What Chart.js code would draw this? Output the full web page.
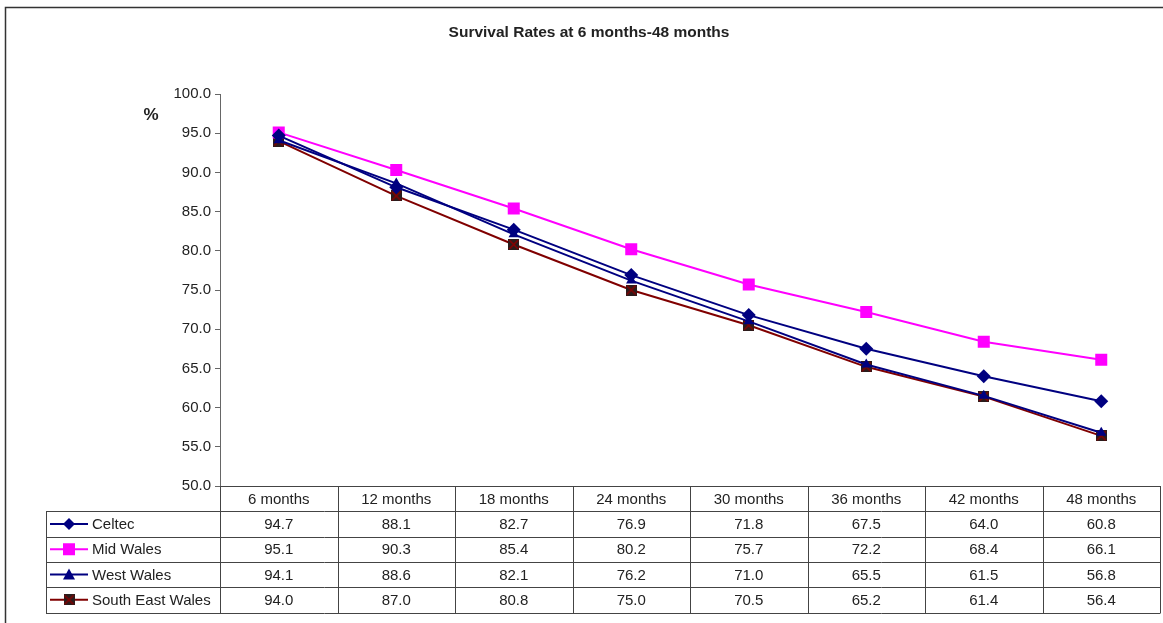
<!DOCTYPE html>
<html>
<head>
<meta charset="utf-8">
<title>Survival Rates at 6 months-48 months</title>
<script src="https://cdn.jsdelivr.net/npm/chart.js@4.4.1/dist/chart.umd.min.js"></script>
<style>
  html, body { margin: 0; padding: 0; background: #fff; }
  #wrap { position: relative; width: 1163px; height: 623px; }
</style>
</head>
<body>
<div id="wrap"><canvas id="chart" width="1163" height="623"></canvas></div>
<script>
const categories = ['6 months', '12 months', '18 months', '24 months', '30 months', '36 months', '42 months', '48 months'];
const celtec = [94.7, 88.1, 82.7, 76.9, 71.8, 67.5, 64.0, 60.8];
const midWales = [95.1, 90.3, 85.4, 80.2, 75.7, 72.2, 68.4, 66.1];
const westWales = [94.1, 88.6, 82.1, 76.2, 71.0, 65.5, 61.5, 56.8];
const southEastWales = [94.0, 87.0, 80.8, 75.0, 70.5, 65.2, 61.4, 56.4];
const seriesNames = ['Celtec', 'Mid Wales', 'West Wales', 'South East Wales'];
const chartTitle = 'Survival Rates at 6 months-48 months';

const FONT = '"Liberation Sans", Arial, sans-serif';

// dark square with a red cross, used for South East Wales
function crossBox(size) {
    const c = document.createElement('canvas');
    c.width = size; c.height = size;
    const g = c.getContext('2d');
    g.fillStyle = '#2a1c1c';
    g.fillRect(0, 0, size, size);
    g.strokeStyle = '#8b0000';
    g.lineWidth = 1.5;
    g.beginPath();
    g.moveTo(1, 1); g.lineTo(size - 1, size - 1);
    g.moveTo(size - 1, 1); g.lineTo(1, size - 1);
    g.stroke();
    return c;
}
const seMarker = crossBox(11);

const ctx = document.getElementById('chart').getContext('2d');

// legend marker drawing for the table
function drawKey(g, ds, i, x, y) {
    g.save();
    g.strokeStyle = ds.borderColor;
    g.lineWidth = 2;
    g.beginPath();
    g.moveTo(x - 19, y); g.lineTo(x + 19, y);
    g.stroke();
    g.fillStyle = ds.pointBackgroundColor;
    g.beginPath();
    if (i === 0) {
        g.moveTo(x, y - 6); g.lineTo(x + 6, y); g.lineTo(x, y + 6); g.lineTo(x - 6, y);
        g.closePath(); g.fill();
    } else if (i === 1) {
        g.fillRect(x - 6, y - 6, 12, 12);
    } else if (i === 2) {
        g.moveTo(x, y - 6); g.lineTo(x + 6, y + 5); g.lineTo(x - 6, y + 5);
        g.closePath(); g.fill();
    } else {
        g.drawImage(seMarker, x - 5.5, y - 5.5);
    }
    g.restore();
}

const extras = {
    id: 'extras',
    afterDraw(chart) {
        const g = chart.ctx;
        const xs = chart.scales.x;
        const area = chart.chartArea;
        const colW = xs.getPixelForValue(1) - xs.getPixelForValue(0);
        const rowH = 25.3;
        const top = area.bottom;
        const keyLeft = 46;
        const values = [celtec, midWales, westWales, southEastWales];

        g.save();
        // outer frame
        g.strokeStyle = '#333';
        g.lineWidth = 1.5;
        g.beginPath();
        g.moveTo(5.5, 623); g.lineTo(5.5, 7.5); g.lineTo(1163, 7.5);
        g.stroke();

        // title, centred a little right of the canvas middle like the original
        g.fillStyle = '#222';
        g.textAlign = 'center';
        g.textBaseline = 'middle';
        g.font = 'bold 15.5px ' + FONT;
        g.fillText(chartTitle, 589, 33);

        // % label
        g.font = 'bold 17px ' + FONT;
        g.fillText('%', 151, 115);

        // data table
        g.strokeStyle = '#444';
        g.lineWidth = 1;
        g.beginPath();
        g.moveTo(area.left, top + 0.5); g.lineTo(area.right, top + 0.5);
        for (let r = 1; r <= 4; r++) {
            const yy = Math.round(top + rowH * r) + 0.5;
            g.moveTo(keyLeft, yy); g.lineTo(area.right, yy);
        }
        const bottom = Math.round(top + rowH * 5) + 0.5;
        g.moveTo(keyLeft, bottom); g.lineTo(area.right, bottom);
        g.moveTo(keyLeft + 0.5, Math.round(top + rowH) + 0.5); g.lineTo(keyLeft + 0.5, bottom);
        for (let c = 0; c <= categories.length; c++) {
            const xx = Math.round(area.left + colW * c) + 0.5;
            g.moveTo(xx, top); g.lineTo(xx, bottom);
        }
        g.stroke();

        g.font = '15px ' + FONT;
        g.fillStyle = '#222';
        g.textAlign = 'center';
        categories.forEach((c, j) => {
            g.fillText(c, xs.getPixelForValue(j), top + rowH / 2 + 1);
        });
        values.forEach((vals, i) => {
            const yy = top + rowH * (i + 1.5) + 1;
            vals.forEach((v, j) => {
                g.fillText(v.toFixed(1), xs.getPixelForValue(j), yy);
            });
        });
        g.textAlign = 'left';
        seriesNames.forEach((n, i) => {
            const yy = top + rowH * (i + 1.5);
            drawKey(g, chart.data.datasets[i], i, 69, yy);
            g.fillText(n, 92, yy + 1);
        });
        g.restore();
    }
};

const chart = new Chart(ctx, {
    type: 'line',
    data: {
        labels: categories,
        datasets: [
            {
                label: seriesNames[0], data: celtec,
                borderColor: '#000080', backgroundColor: '#000080', pointBackgroundColor: '#000080',
                borderWidth: 2, pointStyle: 'rectRot', pointRadius: 7, pointBorderWidth: 0
            },
            {
                label: seriesNames[1], data: midWales,
                borderColor: '#ff00ff', backgroundColor: '#ff00ff', pointBackgroundColor: '#ff00ff',
                borderWidth: 2, pointStyle: 'rect', pointRadius: 8.5, pointBorderWidth: 0
            },
            {
                label: seriesNames[2], data: westWales,
                borderColor: '#000080', backgroundColor: '#000080', pointBackgroundColor: '#000080',
                borderWidth: 2, pointStyle: 'triangle', pointRadius: 6, pointBorderWidth: 0
            },
            {
                label: seriesNames[3], data: southEastWales,
                borderColor: '#800000', backgroundColor: '#800000', pointBackgroundColor: '#2a1c1c',
                borderWidth: 2, pointStyle: seMarker, pointRadius: 6, pointBorderWidth: 0
            }
        ]
    },
    options: {
        responsive: false,
        animation: false,
        events: [],
        layout: { autoPadding: false, padding: { left: 0, right: 3, top: 94, bottom: 129 } },
        plugins: {
            legend: { display: false },
            tooltip: { enabled: false },
            title: { display: false }
        },
        scales: {
            x: {
                offset: true,
                ticks: { display: false },
                grid: { display: false },
                border: { display: false }
            },
            y: {
                min: 50,
                max: 100,
                ticks: {
                    stepSize: 5,
                    color: '#222',
                    padding: 4,
                    font: { family: FONT, size: 15 },
                    callback: v => v.toFixed(1)
                },
                grid: { drawOnChartArea: false, tickLength: 5, color: '#666' },
                border: { color: '#666', width: 1 },
                afterFit: s => { s.width = 220; }
            }
        }
    },
    plugins: [extras]
});
</script>
</body>
</html>
